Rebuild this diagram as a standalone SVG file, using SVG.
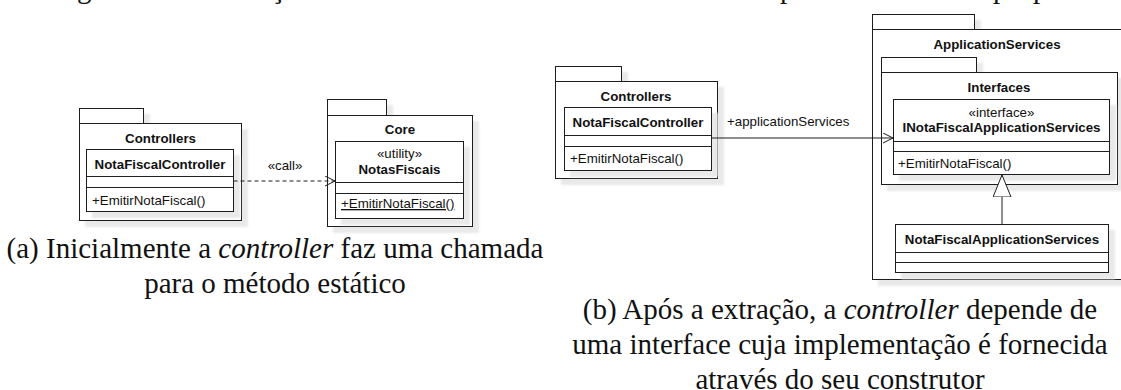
<svg xmlns="http://www.w3.org/2000/svg" width="1121" height="390" viewBox="0 0 1121 390">
  <defs>
    <style>
      .box { fill: #ffffff; stroke: #1e1e1e; stroke-width: 1; }
      .sep { stroke: #1e1e1e; stroke-width: 1; fill: none; }
      .edge { stroke: #1e1e1e; stroke-width: 1; fill: none; }
      .t { font-family: "Liberation Sans", Arial, sans-serif; font-size: 13.3px; fill: #111111; }
      .b { font-weight: bold; }
      .mid { text-anchor: middle; }
      .cap { font-family: "Liberation Serif", "Times New Roman", serif; font-size: 29px; fill: #111111; text-anchor: middle; }
    </style>
    <filter id="shadow" x="-5%" y="-5%" width="120%" height="130%">
      <feOffset in="SourceAlpha" dx="6" dy="6" result="off"/>
      <feGaussianBlur in="off" stdDeviation="0.8" result="blur"/>
      <feFlood flood-color="#e9e9e9"/>
      <feComposite in2="blur" operator="in" result="sh"/>
      <feMerge><feMergeNode in="sh"/><feMergeNode in="SourceGraphic"/></feMerge>
    </filter>
    <marker id="open" markerUnits="userSpaceOnUse" markerWidth="12" markerHeight="12" refX="10" refY="5" orient="auto">
      <path d="M0,0 L10,5 L0,10" fill="none" stroke="#1e1e1e" stroke-width="1"/>
    </marker>
    <marker id="hollow" markerUnits="userSpaceOnUse" markerWidth="24" markerHeight="20" refX="22" refY="9" orient="auto">
      <path d="M0,0 L22,9 L0,18 Z" fill="#ffffff" stroke="#1e1e1e" stroke-width="1"/>
    </marker>
  </defs>

  <rect width="1121" height="390" fill="#ffffff"/>

  <!-- descenders of the preceding text line -->
  <text class="cap" style="text-anchor:start" y="-2"><tspan x="77">g</tspan><tspan x="271">ç</tspan><tspan x="780">p</tspan><tspan x="993">p</tspan><tspan x="1033">p</tspan></text>

  <!-- (a) initial design -->
  <g id="pkg-a-controllers">
    <g filter="url(#shadow)">
      <rect class="box" x="79.5" y="108.5" width="64" height="15"/>
      <rect class="box" x="79.5" y="123.5" width="162" height="97"/>
    </g>
    <text class="t b mid" x="160.5" y="143">Controllers</text>
  </g>
  <g id="cls-a-notafiscalcontroller">
    <rect class="box" x="86.5" y="149.5" width="147" height="62" filter="url(#shadow)"/>
    <path class="sep" d="M86.5,176.5 H233.5 M86.5,187.5 H233.5"/>
    <text class="t b mid" x="160" y="169">NotaFiscalController</text>
    <text class="t" x="92" y="205">+EmitirNotaFiscal()</text>
  </g>

  <g id="pkg-a-core">
    <g filter="url(#shadow)">
      <rect class="box" x="327.5" y="99.5" width="59" height="16"/>
      <rect class="box" x="327.5" y="115.5" width="145" height="111"/>
    </g>
    <text class="t b mid" x="400" y="134">Core</text>
  </g>
  <g id="cls-a-notasfiscais">
    <rect class="box" x="335.5" y="141.5" width="128" height="77" filter="url(#shadow)"/>
    <path class="sep" d="M335.5,182.5 H463.5 M335.5,193.5 H463.5"/>
    <text class="t mid" x="399.5" y="158">«utility»</text>
    <text class="t b mid" x="399.5" y="174">NotasFiscais</text>
    <text class="t" x="341" y="208" text-decoration="underline">+EmitirNotaFiscal()</text>
  </g>

  <!-- (b) after extraction -->
  <g id="pkg-b-controllers">
    <g filter="url(#shadow)">
      <rect class="box" x="555.5" y="66.5" width="66" height="15"/>
      <rect class="box" x="555.5" y="81.5" width="162" height="97"/>
    </g>
    <text class="t b mid" x="636" y="101">Controllers</text>
  </g>
  <g id="cls-b-notafiscalcontroller">
    <rect class="box" x="564.5" y="107.5" width="147" height="63" filter="url(#shadow)"/>
    <path class="sep" d="M564.5,135.5 H711.5 M564.5,146.5 H711.5"/>
    <text class="t b mid" x="638" y="127">NotaFiscalController</text>
    <text class="t" x="570" y="163">+EmitirNotaFiscal()</text>
  </g>

  <g id="pkg-b-applicationservices">
    <g filter="url(#shadow)">
      <rect class="box" x="872.5" y="14.5" width="102" height="15"/>
      <rect class="box" x="872.5" y="29.5" width="262" height="250"/>
    </g>
    <text class="t b mid" x="997" y="49">ApplicationServices</text>
  </g>
  <g id="pkg-b-interfaces">
    <g filter="url(#shadow)">
      <rect class="box" x="881.5" y="57.5" width="95" height="15"/>
      <rect class="box" x="881.5" y="72.5" width="236" height="112"/>
    </g>
    <text class="t b mid" x="999" y="92">Interfaces</text>
  </g>
  <g id="cls-b-inotafiscalapplicationservices">
    <rect class="box" x="893.5" y="99.5" width="216" height="75" filter="url(#shadow)"/>
    <path class="sep" d="M893.5,141.5 H1109.5 M893.5,151.5 H1109.5"/>
    <text class="t mid" x="1001.5" y="117">«interface»</text>
    <text class="t b mid" x="1001.5" y="132">INotaFiscalApplicationServices</text>
    <text class="t" x="898" y="168">+EmitirNotaFiscal()</text>
  </g>
  <g id="cls-b-notafiscalapplicationservices">
    <rect class="box" x="895.5" y="224.5" width="213" height="48" filter="url(#shadow)"/>
    <path class="sep" d="M895.5,252.5 H1108.5 M895.5,262.5 H1108.5"/>
    <text class="t b mid" x="1002" y="244">NotaFiscalApplicationServices</text>
  </g>

  <!-- connectors -->
  <g id="connectors">
    <line class="edge" x1="233.5" y1="181" x2="335" y2="181" stroke-dasharray="4 3" marker-end="url(#open)"/>
    <text class="t mid" x="285" y="170">«call»</text>
    <line class="edge" x1="711.5" y1="138" x2="893" y2="138" marker-end="url(#open)"/>
    <text class="t" x="727" y="126">+applicationServices</text>
    <line class="edge" x1="1002" y1="224.5" x2="1002" y2="175" marker-end="url(#hollow)"/>
  </g>

  <!-- captions -->
  <g id="caption-a">
    <text class="cap" x="275" y="258">(a) Inicialmente a <tspan font-style="italic">controller</tspan> faz uma chamada</text>
    <text class="cap" x="275" y="293">para o método estático</text>
  </g>
  <g id="caption-b">
    <text class="cap" x="840" y="319">(b) Após a extração, a <tspan font-style="italic">controller</tspan> depende de</text>
    <text class="cap" x="840" y="354">uma interface cuja implementação é fornecida</text>
    <text class="cap" x="840" y="389">através do seu construtor</text>
  </g>
</svg>
